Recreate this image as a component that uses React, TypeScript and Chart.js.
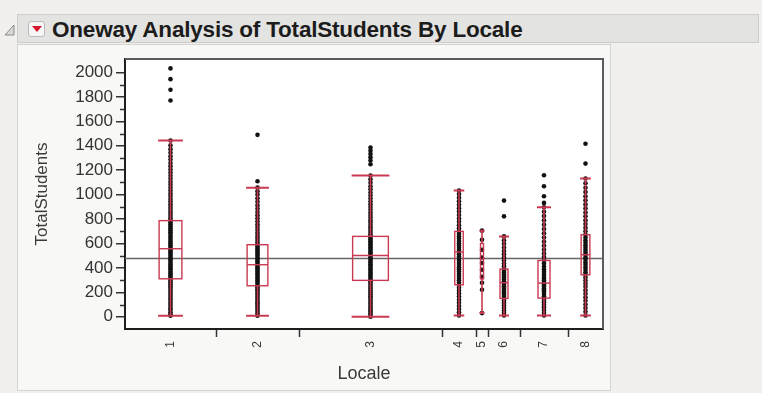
import React, { useEffect, useRef } from "react";
import { Chart, registerables } from "chart.js";

Chart.register(...registerables);

// Locale levels and the relative width each level takes on the X axis
const locales = ["1", "2", "3", "4", "5", "6", "7", "8"];
const levelWidths = [91, 83, 143, 34, 12, 32, 48, 35];

// Y axis labelled ticks and unlabelled minor ticks
const yTicks = [0, 200, 400, 600, 800, 1000, 1200, 1400, 1600, 1800, 2000];
const yMinorTicks = [100, 300, 500, 700, 900, 1100, 1300, 1500, 1700, 1900];

// Grand mean of TotalStudents
const grandMean = 480;

// Box plot summaries per locale
const whiskerLow = [8, 8, 0, 10, 30, 10, 10, 10];
const quartile1 = [311, 254, 298, 262, 310, 150, 153, 344];
const medians = [557, 426, 502, 530, 470, 279, 276, 508];
const quartile3 = [787, 590, 658, 699, 600, 391, 461, 672];
const whiskerHigh = [1443, 1057, 1156, 1033, 705, 658, 896, 1131];

// TotalStudents observations per locale
const locale1 = [8, 21, 37, 55, 70, 88, 104, 121, 139, 154, 171, 186, 203, 219, 236, 250, 266, 282, 297, 311, 326, 340, 355, 369, 384, 398, 413, 428, 441, 456, 470, 485, 499, 514, 528, 543, 557, 571, 586, 601, 615, 630, 646, 661, 677, 692, 709, 724, 741, 757, 772, 787, 806, 824, 843, 861, 882, 901, 922, 944, 965, 988, 1010, 1034, 1057, 1081, 1104, 1130, 1155, 1181, 1206, 1233, 1259, 1287, 1314, 1343, 1372, 1404, 1443, 1770, 1858, 1945, 2033];
const locale2 = [8, 24, 41, 59, 76, 94, 111, 128, 146, 162, 179, 195, 211, 226, 241, 254, 269, 284, 298, 313, 327, 341, 356, 370, 384, 398, 412, 426, 441, 455, 470, 484, 499, 514, 529, 545, 560, 575, 590, 609, 628, 648, 669, 690, 712, 735, 758, 782, 807, 832, 858, 885, 912, 941, 970, 1000, 1028, 1057, 1109, 1489];
const locale3 = [0, 14, 29, 45, 60, 76, 91, 107, 122, 138, 153, 169, 184, 200, 215, 231, 246, 262, 277, 291, 305, 319, 333, 347, 361, 375, 389, 403, 417, 431, 446, 460, 474, 488, 502, 515, 528, 541, 554, 567, 580, 593, 606, 619, 632, 645, 658, 676, 694, 713, 732, 751, 771, 791, 812, 833, 854, 876, 898, 921, 944, 968, 992, 1017, 1043, 1069, 1097, 1126, 1156, 1248, 1279, 1306, 1333, 1358, 1385];
const locale4 = [10, 37, 63, 88, 114, 139, 166, 191, 214, 238, 262, 281, 299, 317, 336, 353, 371, 389, 406, 423, 441, 458, 476, 493, 511, 530, 547, 565, 584, 602, 621, 640, 659, 679, 699, 724, 750, 777, 805, 833, 861, 889, 917, 946, 975, 1004, 1033];
const locale5 = [30, 221, 279, 328, 385, 440, 484, 549, 631, 705];
const locale6 = [10, 31, 51, 72, 93, 112, 131, 150, 164, 179, 193, 207, 221, 235, 249, 263, 277, 291, 305, 319, 333, 347, 362, 377, 391, 413, 436, 460, 485, 511, 539, 567, 597, 627, 658, 822, 951];
const locale7 = [10, 33, 55, 78, 99, 119, 137, 153, 169, 186, 202, 218, 234, 250, 266, 282, 299, 316, 333, 351, 369, 389, 411, 436, 461, 489, 518, 549, 581, 614, 648, 683, 718, 753, 789, 825, 860, 896, 932, 986, 1068, 1158];
const locale8 = [10, 41, 71, 100, 131, 160, 189, 217, 245, 271, 297, 322, 344, 364, 385, 405, 425, 445, 466, 487, 508, 527, 546, 566, 586, 606, 626, 649, 672, 700, 729, 759, 790, 822, 854, 887, 920, 953, 987, 1021, 1056, 1093, 1131, 1254, 1416];
const observations = [locale1, locale2, locale3, locale4, locale5, locale6, locale7, locale8];

// Level boundaries and centres on the proportional X axis
const levelEdges: number[] = [0];
levelWidths.forEach((w) => levelEdges.push(levelEdges[levelEdges.length - 1] + w));
const levelCentres = levelWidths.map((w, i) => levelEdges[i] + w / 2);
const xTotal = levelEdges[levelEdges.length - 1];

const BOX_RED = "#c93a52";

const onewayPlugin = {
  id: "onewayDecor",
  beforeDraw(chart: any) {
    const { ctx, chartArea: a } = chart;
    ctx.save();
    ctx.fillStyle = "#ffffff";
    ctx.fillRect(a.left, a.top, a.right - a.left, a.bottom - a.top);
    ctx.restore();
  },
  beforeDatasetsDraw(chart: any) {
    const { ctx, chartArea: a, scales } = chart;
    const ys = scales.y;
    ctx.save();
    // grand mean line
    const my = Math.round(ys.getPixelForValue(grandMean)) + 0.5;
    ctx.strokeStyle = "#666666";
    ctx.lineWidth = 1.3;
    ctx.beginPath();
    ctx.moveTo(a.left, my);
    ctx.lineTo(a.right, my);
    ctx.stroke();
    ctx.restore();
  },
  afterDatasetsDraw(chart: any) {
    const { ctx, scales } = chart;
    const xs = scales.x;
    const ys = scales.y;
    ctx.save();
    // box plots over the points
    locales.forEach((_, i) => {
      const cx = xs.getPixelForValue(levelCentres[i]);
      const half = (xs.getPixelForValue(levelEdges[i + 1]) - xs.getPixelForValue(levelEdges[i])) * 0.125;
      const yLo = ys.getPixelForValue(whiskerLow[i]);
      const yQ1 = ys.getPixelForValue(quartile1[i]);
      const yMed = ys.getPixelForValue(medians[i]);
      const yQ3 = ys.getPixelForValue(quartile3[i]);
      const yHi = ys.getPixelForValue(whiskerHigh[i]);
      ctx.strokeStyle = BOX_RED;
      ctx.lineWidth = 1.6;
      ctx.beginPath();
      ctx.moveTo(cx, yLo);
      ctx.lineTo(cx, yQ1);
      ctx.moveTo(cx, yQ3);
      ctx.lineTo(cx, yHi);
      ctx.stroke();
      ctx.lineWidth = 2;
      ctx.beginPath();
      ctx.moveTo(cx - half - 1, yLo);
      ctx.lineTo(cx + half + 1, yLo);
      ctx.moveTo(cx - half - 1, yHi);
      ctx.lineTo(cx + half + 1, yHi);
      ctx.stroke();
      ctx.lineWidth = 1.4;
      ctx.strokeRect(cx - half, yQ3, half * 2, yQ1 - yQ3);
      ctx.beginPath();
      ctx.moveTo(cx - half, yMed);
      ctx.lineTo(cx + half, yMed);
      ctx.stroke();
    });
    ctx.restore();
  },
  afterDraw(chart: any) {
    const { ctx, chartArea: a, scales } = chart;
    const xs = scales.x;
    const ys = scales.y;
    ctx.save();
    // top and right frame
    ctx.strokeStyle = "#5c5c5c";
    ctx.lineWidth = 2;
    ctx.beginPath();
    ctx.moveTo(a.left, a.top);
    ctx.lineTo(a.right, a.top);
    ctx.lineTo(a.right, a.bottom);
    ctx.stroke();
    // minor y ticks
    ctx.strokeStyle = "#333";
    ctx.lineWidth = 1.5;
    ctx.beginPath();
    yMinorTicks.forEach((v) => {
      const y = Math.round(ys.getPixelForValue(v)) + 0.5;
      ctx.moveTo(a.left - 1, y);
      ctx.lineTo(a.left - 5, y);
    });
    ctx.stroke();
    // level separators on the X axis
    ctx.beginPath();
    levelEdges.slice(1, -1).forEach((v) => {
      const x = Math.round(xs.getPixelForValue(v)) + 0.5;
      ctx.moveTo(x, a.bottom + 1);
      ctx.lineTo(x, a.bottom + 8);
    });
    ctx.stroke();
    ctx.restore();
  },
};

function OnewayChart() {
  const ref = useRef<HTMLCanvasElement | null>(null);
  useEffect(() => {
    if (!ref.current) return;
    const points: { x: number; y: number }[] = [];
    observations.forEach((vals, i) => vals.forEach((v) => points.push({ x: levelCentres[i], y: v })));
    const chart = new Chart(ref.current, {
      type: "scatter",
      data: {
        datasets: [
          {
            label: "TotalStudents",
            data: points,
            pointRadius: 2.3,
            pointBackgroundColor: "#121212",
            pointBorderWidth: 0,
            pointBorderColor: "#121212",
          },
        ],
      },
      options: {
        responsive: false,
        animation: false,
        devicePixelRatio: 1,
        layout: { padding: { left: 0, top: 59, right: 159, bottom: 0 } },
        plugins: { legend: { display: false }, tooltip: { enabled: false } },
        scales: {
          x: {
            type: "linear",
            position: "bottom",
            min: 0,
            max: xTotal,
            afterFit: (s: any) => {
              s.height = 64;
            },
            afterBuildTicks: (s: any) => {
              s.ticks = levelCentres.map((value) => ({ value }));
            },
            grid: { display: false },
            border: { display: true, color: "#1e1e1e", width: 2 },
            ticks: {
              autoSkip: false,
              minRotation: 90,
              maxRotation: 90,
              padding: 4,
              color: "#3a3a3a",
              font: { family: "'Liberation Sans', Arial, sans-serif", size: 12 },
              callback: (v: any) => {
                const i = levelCentres.indexOf(Number(v));
                return i >= 0 ? locales[i] : "";
              },
            },
            title: {
              display: true,
              text: "Locale",
              color: "#3a3a3a",
              font: { family: "'Liberation Sans', Arial, sans-serif", size: 18 },
              padding: { top: 0, bottom: 8 },
            },
          },
          y: {
            type: "linear",
            min: -100,
            max: 2110,
            afterFit: (s: any) => {
              s.width = 125;
            },
            afterBuildTicks: (s: any) => {
              s.ticks = yTicks.map((value) => ({ value }));
            },
            grid: {
              display: true,
              drawOnChartArea: false,
              drawTicks: true,
              tickLength: 9,
              color: "#333",
              lineWidth: 1.5,
            },
            border: { display: true, color: "#1e1e1e", width: 2 },
            ticks: {
              padding: 3,
              color: "#333333",
              font: { family: "'Liberation Sans', Arial, sans-serif", size: 17 },
              callback: (v: any) => String(v),
            },
            title: {
              display: true,
              text: "TotalStudents",
              color: "#3a3a3a",
              font: { family: "'Liberation Sans', Arial, sans-serif", size: 17 },
              padding: { top: 32, bottom: 0 },
            },
          },
        },
      },
      plugins: [onewayPlugin],
    });
    return () => chart.destroy();
  }, []);
  return (
    <canvas
      ref={ref}
      width={762}
      height={393}
      style={{ position: "absolute", left: 0, top: 0, width: 762, height: 393 }}
    />
  );
}

export default function App() {
  return (
    <div
      style={{
        position: "absolute",
        left: 0,
        top: 0,
        width: 762,
        height: 393,
        overflow: "hidden",
        background: "#f1f0ec",
        fontFamily: "'Liberation Sans', Arial, sans-serif",
      }}
    >
      <svg style={{ position: "absolute", left: 4, top: 24 }} width={11} height={12}>
        <polygon points="1,11 10,11 10,1" fill="#d8d8d8" stroke="#8a8a8a" strokeWidth={1} />
      </svg>
      <div
        style={{
          position: "absolute",
          left: 17,
          top: 14,
          width: 742,
          height: 29,
          background: "#e3e3e1",
          border: "1px solid #cdcdcb",
          boxSizing: "border-box",
        }}
      />
      <div
        style={{
          position: "absolute",
          left: 28,
          top: 21,
          width: 17,
          height: 16,
          background: "#f6f6f6",
          border: "1px solid #b9b9b9",
          borderRadius: 3,
          boxSizing: "border-box",
        }}
      >
        <svg style={{ position: "absolute", left: 3, top: 4 }} width={10} height={7}>
          <polygon points="0,0 10,0 5,6" fill="#d9142b" />
        </svg>
      </div>
      <div
        style={{
          position: "absolute",
          left: 52,
          top: 17,
          fontSize: 22.5,
          lineHeight: "26px",
          fontWeight: "bold",
          color: "#1c1c1c",
          whiteSpace: "nowrap",
          letterSpacing: -0.2,
        }}
      >
        Oneway Analysis of TotalStudents By Locale
      </div>
      <div
        style={{
          position: "absolute",
          left: 17,
          top: 44,
          width: 594,
          height: 347,
          background: "#f8f8f6",
          border: "1px solid #d4d4d2",
          boxSizing: "border-box",
        }}
      />
      <OnewayChart />
    </div>
  );
}
